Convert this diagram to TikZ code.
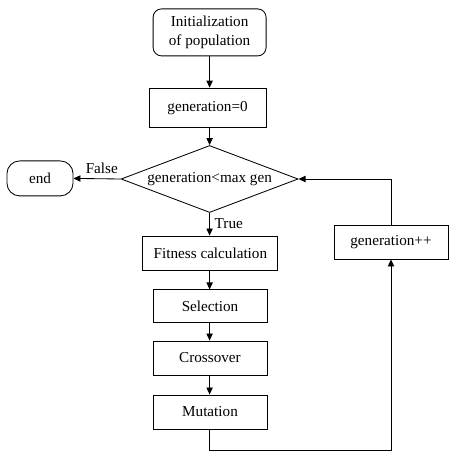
\documentclass[tikz,border=0pt]{standalone}
\usepackage{fontspec}
\setmainfont{Liberation Serif}
\usetikzlibrary{arrows.meta,shapes.geometric}

\begin{document}
\begin{tikzpicture}[font=\fontsize{10.8}{13.5}\selectfont,line width=0.6pt,
  >={Triangle[length=5pt,width=4.5pt]},
  box/.style={draw,rectangle,inner sep=0pt},
  rbox/.style={draw,rectangle,rounded corners=6pt,inner sep=0pt,align=center},
  test/.style={draw,diamond,aspect=2.64,inner sep=0pt,minimum width=4.425cm,minimum height=1.675cm}]
  \useasboundingbox (0,0) rectangle (11.375,-11.425);
  \node[rbox,minimum width=2.825cm,minimum height=1.175cm] (I) at (5.24,-0.81) {Initialization\\of population};
  \node[box,minimum width=2.925cm,minimum height=0.975cm] (G) at (5.19,-2.69) {generation=0};
  \node[test] (D) at (5.24,-4.475) {generation<max gen};
  \node[rbox,rounded corners=9pt,minimum width=1.65cm,minimum height=0.875cm] (E) at (1.0,-4.46) {end};
  \node[box,minimum width=3.375cm,minimum height=0.85cm] (F) at (5.26,-6.325) {Fitness calculation};
  \node[box,minimum width=2.85cm,minimum height=0.825cm] (S) at (5.25,-7.66) {Selection};
  \node[box,minimum width=2.85cm,minimum height=0.85cm] (C) at (5.25,-8.95) {Crossover};
  \node[box,minimum width=2.85cm,minimum height=0.85cm] (M) at (5.25,-10.3) {Mutation};
  \node[box,minimum width=2.85cm,minimum height=0.85cm] (P) at (9.775,-6.05) {generation++};
  \draw[->] (I.south -| D) -- (G.north -| D);
  \draw[->] (G.south -| D) -- (D.north);
  \draw[->] (D.west) -- (E.east) node[pos=0.4,above] (f) {False};
  \draw[->] (D.south) -- (F.north -| D) node[pos=0.45,right] (t) {True};
  \draw[->] (F.south -| D) -- (S.north -| D);
  \draw[->] (S.south -| D) -- (C.north -| D);
  \draw[->] (C.south -| D) -- (M.north -| D);
  \draw[->] (M.south -| D) -- ++(0,-0.525) -| (P.south);
  \draw[->] (P.north) |- (D.east);
\end{tikzpicture}
\end{document}
